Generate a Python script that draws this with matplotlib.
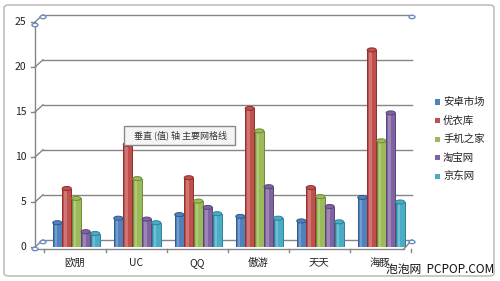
import numpy as np
import matplotlib.pyplot as plt
from matplotlib.patches import FancyBboxPatch, Ellipse

plt.rcParams['font.family'] = ['Noto Sans CJK SC', 'DejaVu Sans']

categories = ['欧朋', 'UC', 'QQ', '傲游', '天天', '海豚']
series = ['安卓市场', '优衣库', '手机之家', '淘宝网', '京东网']
anzhuo = [2.7, 3.2, 3.6, 3.4, 2.9, 5.5]
youyiku = [6.5, 11.4, 7.7, 15.4, 6.6, 21.9]
shouji = [5.4, 7.6, 5.1, 12.9, 5.6, 11.8]
taobao = [1.7, 3.1, 4.4, 6.7, 4.5, 14.9]
jingdong = [1.5, 2.7, 3.7, 3.2, 2.8, 5.0]
values = [anzhuo, youyiku, shouji, taobao, jingdong]
colors = ['#4F81BD', '#C0504D', '#9BBB59', '#8064A2', '#4BACC6']
edges = ['#2E5A8E', '#8E2F2C', '#6F8A38', '#59437A', '#2F8099']
yticks = [0, 5, 10, 15, 20, 25]

W, H = 500, 281
fig = plt.figure(figsize=(5, 2.81), dpi=100)

# chart frame
frame = FancyBboxPatch((4 / W, 5 / H), 490 / W, 271 / H, boxstyle='round,pad=0,rounding_size=0.01',
                       transform=fig.transFigure, fc='white', ec='#BFBFBF', lw=1.2, zorder=-10)
fig.add_artist(frame)

# axes: x from 35px to 412px, y 0 at 247px, 25 at 22px
x0px, x1px = 35, 412
ax = fig.add_axes([x0px / W, (H - 247) / H, (x1px - x0px) / W, 225 / H])
ax.patch.set_alpha(0)
xl = -(75 - 35) / 61
xr = (412 - 75) / 61
ax.set_xlim(xl, xr)
ax.set_ylim(0, 25)
ax.axis('off')

dx = 8 / 61
dy = 0.8
# back gridlines with perspective
for v in yticks:
    ax.plot([xl + dx, xr], [v + dy, v + dy], color='#858585', lw=1.0, clip_on=False)
    ax.plot([xl, xl + dx], [v, v + dy], color='#858585', lw=1.0, clip_on=False)
    ax.plot([xl - 0.07, xl], [v, v], color='#858585', lw=1.0, clip_on=False)
    ax.text(xl - 0.14, v, str(v), ha='right', va='center', fontsize=7.5, color='#222222')
# front axes
ax.plot([xl, xl], [0, 25], color='#858585', lw=1.0, clip_on=False)
ax.plot([xl, xr - dx], [-0.2, -0.2], color='#858585', lw=1.0, clip_on=False)
ax.plot([xr - dx, xr], [-0.2, dy], color='#858585', lw=1.0, clip_on=False)
for i in range(len(categories) + 1):
    ax.plot([i - 0.5, i - 0.5], [-0.2, -0.6], color='#858585', lw=1.0, clip_on=False)

x = np.arange(len(categories))
bw = 0.15
for j, (vals, c, e) in enumerate(zip(values, colors, edges)):
    pos = x + (j - 2) * 0.155 + 0.02
    ax.bar(pos, vals, width=bw, color=c, edgecolor=e, lw=0.7, zorder=3)
    ax.bar(pos - 0.02, vals, width=bw * 0.3, color='white', alpha=0.22, lw=0, zorder=4)
    for p, v in zip(pos, vals):
        ax.add_patch(Ellipse((p, v), bw, 0.45, fc=c, ec=e, lw=0.7, zorder=5))

for i, cat in enumerate(categories):
    ax.text(i, -1.2, cat, ha='center', va='top', fontsize=7.5, color='#222222')

# selection handles
for px, py in [(35, 249), (43, 242), (35, 25), (43, 17), (412, 17), (412, 242)]:
    fig.add_artist(plt.Circle((px / W, 1 - py / H), 0.006, transform=fig.transFigure,
                              fc='white', ec='#6A8EC2', lw=1.0, zorder=5))

# legend
for j, (s, c) in enumerate(zip(series, colors)):
    yy = 1 - (102 + j * 18.5) / H
    fig.add_artist(plt.Rectangle((435 / W, yy - 2.5 / H), 5 / W, 5 / H, transform=fig.transFigure,
                                 fc=c, ec='none'))
    fig.text(443 / W, yy, s, ha='left', va='center', fontsize=7.5, color='#222222')

# tooltip
tip = plt.Rectangle((124 / W, 1 - 145 / H), 111 / W, 19 / H, transform=fig.transFigure,
                    fc='#F4F4F4', ec='#8A8A8A', lw=1.0, zorder=6)
fig.add_artist(tip)
fig.text(180 / W, 1 - 135.5 / H, '垂直 (值) 轴 主要网格线', ha='center', va='center', fontsize=6.5,
         color='#333333', zorder=7)

# watermark
fig.text(494 / W, 1 - 270 / H, '泡泡网  PCPOP.COM', ha='right', va='center', fontsize=8.5,
         color='#111111')

fig.savefig('out.png', dpi=100)
